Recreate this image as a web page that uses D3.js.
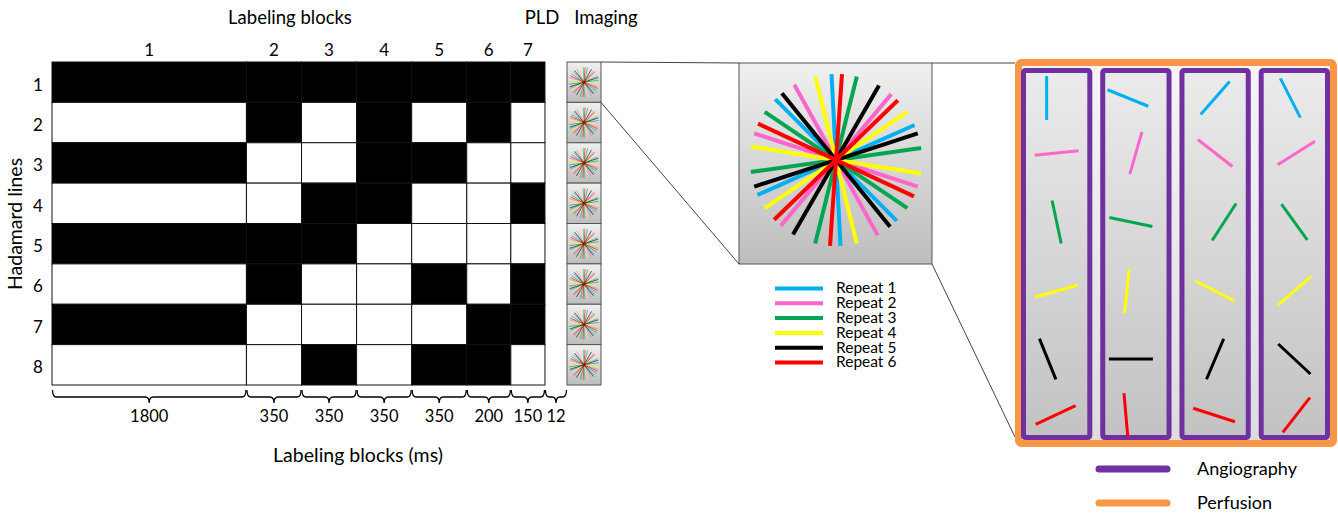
<!DOCTYPE html>
<html>
<head>
<meta charset="utf-8">
<script src="https://cdn.jsdelivr.net/npm/d3@7"></script>
<style>
  body { margin: 0; background: #fff; }
  svg { display: block; }
  text { font-family: Lato, "Open Sans", sans-serif; fill: #000; }
</style>
</head>
<body>
<div class="svg-div"></div>
<script>
// ---- data ----
const blockLabels = ["1", "2", "3", "4", "5", "6", "7"];
const blockMs = [1800, 350, 350, 350, 350, 200, 150];
const pldMs = 12;
const rowLabels = ["1", "2", "3", "4", "5", "6", "7", "8"];
// 1 = labeling (black), 0 = control (white)
const hadamard = [
  [1, 1, 1, 1, 1, 1, 1],
  [0, 1, 0, 1, 0, 1, 0],
  [1, 0, 0, 1, 1, 0, 0],
  [0, 0, 1, 1, 0, 0, 1],
  [1, 1, 1, 0, 0, 0, 0],
  [0, 1, 0, 0, 1, 0, 1],
  [1, 0, 0, 0, 0, 1, 1],
  [0, 0, 1, 0, 1, 1, 0]
];
const repeatNames = ["Repeat 1", "Repeat 2", "Repeat 3", "Repeat 4", "Repeat 5", "Repeat 6"];
// spoke angles (deg, clockwise from vertical) per repeat in the full star
const starAngles = [
  [66, 135, 177],
  [40, 108, 151],
  [14, 82, 124],
  [56, 99, 166],
  [30, 72, 141],
  [4, 46, 115]
];
// one spoke per repeat in each angiography frame
const panelAngles = [
  [0, 84, 168, 74, 158, 65],
  [112, 16, 102, 6, 90, 175],
  [41, 128, 33, 117, 23, 108],
  [153, 58, 144, 49, 133, 38]
];
const legendNames = ["Angiography", "Perfusion"];

// ---- styles / layout ----
const repeatColors = ["#00b0f0", "#ff66cc", "#00a650", "#ffff00", "#000000", "#ff0000"];
const purple = "#7030a0", orange = "#f79646";
const segUnits = [3.53, 1, 1, 1, 1, 0.8, 0.62, 0.4];   // schematic widths, not to scale
const segY = [98, 153, 222, 291, 359, 415];
const segDx = [
  [-10, 0, 0, 0, -9, -1],
  [-8, 0, -5, -9, -5, -10],
  [0, 0, 9, 0, 0, -1],
  [-4, 2, 0, 0, 0, 2]
];

const W = 1338, H = 513;
const svg = d3.select(".svg-div").append("svg")
  .attr("width", W).attr("height", H);

const defs = svg.append("defs");
function vgrad(id, c0, c1) {
  let g = defs.append("linearGradient").attr("id", id)
    .attr("x1", 0).attr("y1", 0).attr("x2", 0).attr("y2", 1);
  g.append("stop").attr("offset", "0%").attr("stop-color", c0);
  g.append("stop").attr("offset", "100%").attr("stop-color", c1);
}
vgrad("gBox", "#f0f0f0", "#bdbdbd");
vgrad("gPanel", "#ebebeb", "#c2c2c2");
vgrad("gOuter", "#f5f5f5", "#dcdcdc");

// scales
let cum = [0];
segUnits.forEach(u => cum.push(cum[cum.length - 1] + u));
const x = d3.scaleLinear().domain([0, cum[cum.length - 1]]).range([52, 567]);
const y = d3.scaleBand().domain(rowLabels).range([62, 385]);

// ---- Hadamard grid ----
const grid = svg.append("g");
hadamard.forEach((row, r) => {
  grid.selectAll(null)
    .data(row)
    .enter()
    .append("rect")
    .attr("x", (d, i) => x(cum[i]))
    .attr("y", y(rowLabels[r]))
    .attr("width", (d, i) => x(cum[i + 1]) - x(cum[i]))
    .attr("height", y.bandwidth())
    .style("fill", d => d ? "#000" : "#fff")
    .style("stroke", "#111")
    .style("stroke-width", 1);
});

svg.selectAll(".rowlab")
  .data(rowLabels)
  .enter()
  .append("text")
  .attr("class", "rowlab")
  .attr("x", 38)
  .attr("y", d => y(d) + y.bandwidth() / 2 + 4)
  .attr("text-anchor", "middle")
  .attr("dominant-baseline", "middle")
  .style("font-size", "17px")
  .text(d => d);

svg.selectAll(".collab")
  .data(blockLabels)
  .enter()
  .append("text")
  .attr("class", "collab")
  .attr("x", (d, i) => (x(cum[i]) + x(cum[i + 1])) / 2)
  .attr("y", 52)
  .attr("text-anchor", "middle")
  .attr("dominant-baseline", "middle")
  .style("font-size", "17px")
  .text(d => d);

svg.append("text").attr("x", 290).attr("y", 19)
  .attr("text-anchor", "middle").attr("dominant-baseline", "middle")
  .style("font-size", "18.5px").text("Labeling blocks");
svg.append("text").attr("x", 542).attr("y", 19)
  .attr("text-anchor", "middle").attr("dominant-baseline", "middle")
  .style("font-size", "18.5px").text("PLD");
svg.append("text").attr("x", 606).attr("y", 19)
  .attr("text-anchor", "middle").attr("dominant-baseline", "middle")
  .style("font-size", "18.5px").text("Imaging");
svg.append("text")
  .attr("transform", "translate(17,224) rotate(-90)")
  .attr("text-anchor", "middle").attr("dominant-baseline", "middle")
  .style("font-size", "19.5px").text("Hadamard lines");

// ---- braces with durations ----
const segMs = blockMs.concat([pldMs]);
function bracePath(x0, x1) {
  let m = (x0 + x1) / 2, t = 390, h = 397, b = 403;
  return `M${x0},${t} Q${x0},${h} ${x0 + 4},${h} L${m - 4},${h} Q${m},${h} ${m},${b}` +
    ` Q${m},${h} ${m + 4},${h} L${x1 - 4},${h} Q${x1},${h} ${x1},${t}`;
}
const braces = svg.append("g");
braces.selectAll("path")
  .data(segMs)
  .enter()
  .append("path")
  .attr("d", (d, i) => bracePath(x(cum[i]) + 0.5, x(cum[i + 1]) - 0.5))
  .style("fill", "none")
  .style("stroke", "#000")
  .style("stroke-width", 1.3);
braces.selectAll("text")
  .data(segMs)
  .enter()
  .append("text")
  .attr("x", (d, i) => (x(cum[i]) + x(cum[i + 1])) / 2)
  .attr("y", 418)
  .attr("text-anchor", "middle")
  .attr("dominant-baseline", "middle")
  .style("font-size", "16.5px")
  .text(d => d);
svg.append("text").attr("x", 358).attr("y", 457)
  .attr("text-anchor", "middle").attr("dominant-baseline", "middle")
  .style("font-size", "19.5px").text("Labeling blocks (ms)");

// ---- star drawing ----
function drawStar(g, cx, cy, r, sw, op) {
  starAngles.forEach((angles, i) => {
    g.selectAll(null)
      .data(angles)
      .enter()
      .append("line")
      .attr("x1", a => cx + r * Math.sin(a * Math.PI / 180))
      .attr("y1", a => cy - r * Math.cos(a * Math.PI / 180))
      .attr("x2", a => cx - r * Math.sin(a * Math.PI / 180))
      .attr("y2", a => cy + r * Math.cos(a * Math.PI / 180))
      .style("stroke", repeatColors[i])
      .style("stroke-width", sw)
      .style("opacity", op);
  });
}

// imaging thumbnails
const thumbX = x(cum[cum.length - 1]), thumbW = 34;
const thumbs = svg.append("g");
rowLabels.forEach(r => {
  let g = thumbs.append("g");
  g.append("rect")
    .attr("x", thumbX).attr("y", y(r))
    .attr("width", thumbW).attr("height", y.bandwidth())
    .style("fill", "url(#gBox)").style("stroke", "#555").style("stroke-width", 1);
  drawStar(g, thumbX + thumbW / 2, y(r) + y.bandwidth() / 2, 15, 1, 0.6);
  g.append("circle").attr("cx", thumbX + thumbW / 2).attr("cy", y(r) + y.bandwidth() / 2)
    .attr("r", 1.5).style("fill", "#b00000");
});

// zoomed star
const big = { x: 739, y: 63, w: 193, h: 201 };
svg.append("rect")
  .attr("x", big.x).attr("y", big.y).attr("width", big.w).attr("height", big.h)
  .style("fill", "url(#gBox)").style("stroke", "#555").style("stroke-width", 1);
drawStar(svg.append("g"), 836, 160, 86, 4, 1);

// connector lines
const orangeBox = { x: 1018.5, y: 62.5, w: 315, h: 381 };
const conn = [
  [thumbX + thumbW, y("1"), big.x, big.y],
  [thumbX + thumbW, y("1") + y.bandwidth(), big.x, big.y + big.h],
  [big.x + big.w, big.y, orangeBox.x - 3.5, big.y],
  [big.x + big.w, big.y + big.h, orangeBox.x - 3.5, 437]
];
svg.selectAll(".conn")
  .data(conn)
  .enter()
  .append("line")
  .attr("class", "conn")
  .attr("x1", d => d[0]).attr("y1", d => d[1])
  .attr("x2", d => d[2]).attr("y2", d => d[3])
  .style("stroke", "#444").style("stroke-width", 1);

// repeat legend
const lg = svg.append("g");
const ly = d3.scalePoint().domain(repeatNames).range([288.5, 362.5]);
lg.selectAll("line")
  .data(repeatNames)
  .enter()
  .append("line")
  .attr("x1", 775).attr("x2", 823)
  .attr("y1", d => ly(d)).attr("y2", d => ly(d))
  .style("stroke", (d, i) => repeatColors[i])
  .style("stroke-width", 4);
lg.selectAll("text")
  .data(repeatNames)
  .enter()
  .append("text")
  .attr("x", 836)
  .attr("y", d => ly(d) + 1)
  .attr("dominant-baseline", "middle")
  .style("font-size", "15.5px")
  .text(d => d);

// ---- perfusion / angiography frames ----
svg.append("rect")
  .attr("x", orangeBox.x).attr("y", orangeBox.y)
  .attr("width", orangeBox.w).attr("height", orangeBox.h)
  .attr("rx", 3)
  .style("fill", "url(#gOuter)").style("stroke", orange).style("stroke-width", 7);

const px = d3.scaleBand().domain(d3.range(panelAngles.length))
  .range([1021, 1330]).paddingInner(0.1);
panelAngles.forEach((angles, p) => {
  let g = svg.append("g");
  let x0 = px(p), bw = px.bandwidth();
  g.append("rect")
    .attr("x", x0 + 2.5).attr("y", 70.5)
    .attr("width", bw - 5).attr("height", 367)
    .attr("rx", 2)
    .style("fill", "url(#gPanel)").style("stroke", purple).style("stroke-width", 5);
  let cx = x0 + bw / 2, r = 22;
  g.selectAll("line")
    .data(angles)
    .enter()
    .append("line")
    .attr("x1", (a, i) => cx + segDx[p][i] + r * Math.sin(a * Math.PI / 180))
    .attr("y1", (a, i) => segY[i] - r * Math.cos(a * Math.PI / 180))
    .attr("x2", (a, i) => cx + segDx[p][i] - r * Math.sin(a * Math.PI / 180))
    .attr("y2", (a, i) => segY[i] + r * Math.cos(a * Math.PI / 180))
    .style("stroke", (a, i) => repeatColors[i])
    .style("stroke-width", 3);
});

// frame legend
const fl = svg.append("g");
const fy = d3.scalePoint().domain(legendNames).range([469, 503]);
fl.selectAll("line")
  .data(legendNames)
  .enter()
  .append("line")
  .attr("x1", 1099).attr("x2", 1167)
  .attr("y1", d => fy(d)).attr("y2", d => fy(d))
  .style("stroke", (d, i) => i === 0 ? purple : orange)
  .style("stroke-width", 7)
  .style("stroke-linecap", "round");
fl.selectAll("text")
  .data(legendNames)
  .enter()
  .append("text")
  .attr("x", 1197)
  .attr("y", d => fy(d) + 1)
  .attr("dominant-baseline", "middle")
  .style("font-size", "18px")
  .text(d => d);
</script>
</body>
</html>
